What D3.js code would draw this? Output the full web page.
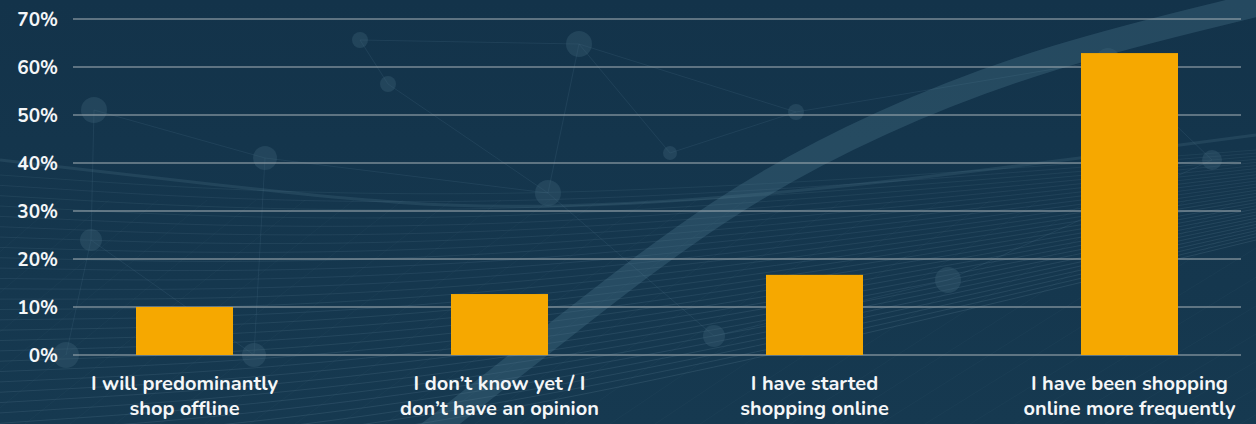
<!DOCTYPE html>
<html>
<head>
<meta charset="utf-8">
<script src="https://cdn.jsdelivr.net/npm/d3@7"></script>
<style>
  html, body { margin: 0; padding: 0; background: #14344a; }
  svg { display: block; }
</style>
</head>
<body>
<svg id="chart" width="1256" height="424"></svg>
<script>
// Survey answers and the share of respondents choosing each
const categories = [
  "I will predominantly shop offline",
  "I don\u2019t know yet / I don\u2019t have an opinion",
  "I have started shopping online",
  "I have been shopping online more frequently"
];
const labelLines = [
  ["I will predominantly", "shop offline"],
  ["I don\u2019t know yet / I", "don\u2019t have an opinion"],
  ["I have started", "shopping online"],
  ["I have been shopping", "online more frequently"]
];
const shares = [10, 12.7, 16.7, 62.9];
const yTicks = [0, 10, 20, 30, 40, 50, 60, 70];

const W = 1256, H = 424;
const margin = { left: 73, right: 15, top: 19, bottom: 69 };
const svg = d3.select("#chart");

// ---- decorative backdrop ----
const bg = svg.append("g");
const grad = svg.append("defs").append("linearGradient")
  .attr("id", "bgGrad").attr("x1", 0).attr("y1", 0).attr("x2", 0).attr("y2", 1);
grad.append("stop").attr("offset", "0%").attr("stop-color", "#13334a");
grad.append("stop").attr("offset", "100%").attr("stop-color", "#163950");
bg.append("rect").attr("width", W).attr("height", H).attr("fill", "url(#bgGrad)");

// wave mesh in the lower half
const mesh = bg.append("g").attr("stroke", "#6a8ca1").attr("fill", "none");
d3.range(0, 30).forEach(i => {
  const t = i / 29;
  const yl = 175 + t * 300;
  const ym = 208 + t * 220;
  const yr = 150 + t * 130;
  mesh.append("path")
    .attr("d", d3.line().curve(d3.curveBasis)([[0, yl], [480, ym], [1256, yr - t * 40]]))
    .attr("stroke-opacity", 0.16 + 0.1 * t)
    .attr("stroke-width", 0.8);
});
d3.range(0, 40).forEach(i => {
  const x0 = -200 + i * 45;
  mesh.append("path")
    .attr("d", d3.line()([[x0, 424], [x0 + 260 + i * 4, 200]]))
    .attr("stroke-opacity", 0.07)
    .attr("stroke-width", 0.8);
});

// glowing swoosh
bg.append("path")
  .attr("d", d3.line().curve(d3.curveBasis)([[420, 440], [560, 330], [720, 205], [880, 120], [1050, 55], [1256, 5]]))
  .attr("stroke", "#4f7890").attr("stroke-opacity", 0.32)
  .attr("stroke-width", 24).attr("fill", "none").attr("stroke-linecap", "round");
bg.append("path")
  .attr("d", d3.line().curve(d3.curveBasis)([[0, 160], [300, 195], [500, 212], [800, 195], [1256, 135]]))
  .attr("stroke", "#5a8196").attr("stroke-opacity", 0.2)
  .attr("stroke-width", 3).attr("fill", "none");

// network nodes and links
const nodes = [[94, 110], [360, 40], [388, 84], [579, 44], [548, 193], [265, 158], [91, 240], [670, 153],
  [796, 112], [948, 280], [714, 336], [254, 355], [66, 355], [1108, 60], [1212, 160]];
const links = [[0, 5], [0, 6], [5, 4], [4, 3], [3, 1], [3, 7], [4, 10], [7, 8], [8, 13], [2, 4], [6, 11], [9, 10], [9, 14], [13, 14], [5, 11], [12, 6], [1, 2], [3, 8]];
const net = bg.append("g");
links.forEach(([a, b]) => {
  net.append("line")
    .attr("x1", nodes[a][0]).attr("y1", nodes[a][1])
    .attr("x2", nodes[b][0]).attr("y2", nodes[b][1])
    .attr("stroke", "#5d8199").attr("stroke-opacity", 0.16).attr("stroke-width", 1);
});
nodes.forEach((p, i) => {
  net.append("circle").attr("cx", p[0]).attr("cy", p[1])
    .attr("r", [13, 8, 8, 13, 13, 12, 11, 7, 8, 13, 11, 12, 13, 12, 10][i])
    .attr("fill", "#3d6077").attr("fill-opacity", 0.38);
});

// ---- chart ----
const x = d3.scaleBand()
  .domain(categories)
  .range([margin.left, W - margin.right])
  .paddingInner(0.692)
  .paddingOuter(0.2);

const y = d3.scaleLinear()
  .domain([0, 70])
  .range([H - margin.bottom, margin.top]);

const font = "Nunito, Lato, 'Open Sans', sans-serif";

// gridlines
svg.append("g")
  .selectAll("line")
  .data(yTicks)
  .join("line")
  .attr("x1", margin.left).attr("x2", W - margin.right)
  .attr("y1", d => y(d)).attr("y2", d => y(d))
  .attr("stroke", "#9aa6ad").attr("stroke-opacity", 0.75).attr("stroke-width", 1.5);

// y-axis labels
const yAxis = d3.axisLeft(y).tickValues(yTicks).tickFormat(d => d + "%").tickSize(0).tickPadding(15);
const yg = svg.append("g").attr("transform", `translate(${margin.left},0)`).call(yAxis);
yg.select(".domain").remove();
yg.selectAll("text")
  .attr("fill", "#f4f6f8")
  .style("font-family", font)
  .style("font-weight", 700)
  .style("font-size", "19px");

// bars
svg.append("g")
  .selectAll("rect")
  .data(shares)
  .join("rect")
  .attr("x", (d, i) => x(categories[i]))
  .attr("y", d => y(d))
  .attr("width", x.bandwidth())
  .attr("height", d => y(0) - y(d))
  .attr("fill", "#f6a800");

// category labels, one text per line
const lineGap = 25;
const labelGroups = svg.append("g")
  .selectAll("g")
  .data(labelLines)
  .join("g")
  .attr("transform", (d, i) => `translate(${x(categories[i]) + x.bandwidth() / 2},${y(0) + 35})`);
labelGroups.selectAll("text")
  .data(d => d)
  .join("text")
  .attr("y", (d, i) => i * lineGap)
  .attr("text-anchor", "middle")
  .attr("fill", "#f4f6f8")
  .style("font-family", font)
  .style("font-weight", 700)
  .style("font-size", "20px")
  .text(d => d);
</script>
</body>
</html>
